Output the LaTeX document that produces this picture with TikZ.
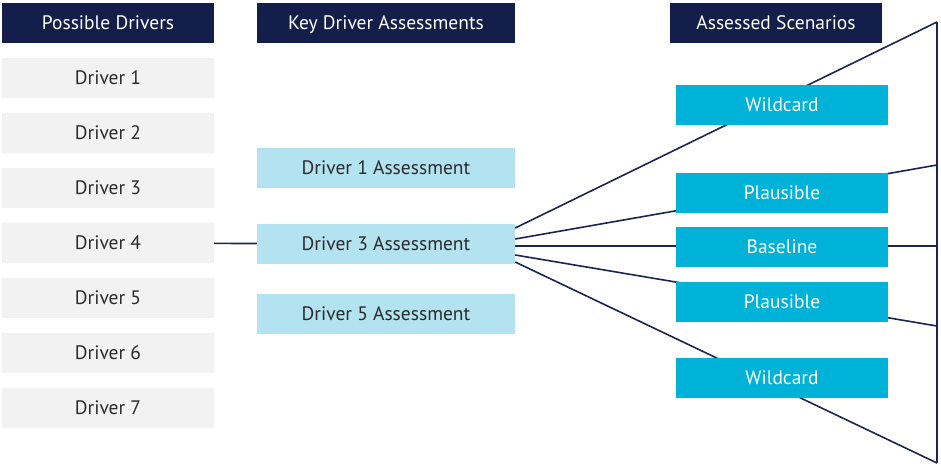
\documentclass[tikz,border=0pt]{standalone}
\usepackage{fontspec}
\setmainfont{PT Sans}
\usepackage{xcolor}
\usepackage{tikz}
\definecolor{navy}{HTML}{131E4A}
\definecolor{linenavy}{HTML}{1B2550}
\definecolor{drivergray}{HTML}{F2F2F2}
\definecolor{assessblue}{HTML}{B3E3F0}
\definecolor{scenblue}{HTML}{00B2D8}
\definecolor{textgray}{HTML}{2B2B2B}

\begin{document}
\begin{tikzpicture}[x=1pt, y=1pt, node distance=55pt,
  box/.style={rectangle, inner sep=0pt, minimum height=40pt, text height=13.6pt, text depth=0pt, font=\fontsize{19.5}{22}\selectfont},
  head/.style={box, fill=navy, text=white},
  driver/.style={box, fill=drivergray, text=textgray, minimum width=212pt},
  assess/.style={box, fill=assessblue, text=textgray, minimum width=258pt},
  scen/.style={box, fill=scenblue, text=white, minimum width=212pt},
  fan/.style={draw=linenavy, line width=1.6pt}]
\useasboundingbox (0,0) rectangle (941,-466);

% column headers
\node (drivershead) [head, minimum width=212pt] at (108,-23) {Possible Drivers};
\node (assesshead) [head, minimum width=258pt] at (386,-23) {Key Driver Assessments};
\node (scenhead) [head, minimum width=212pt] at (776,-23) {Assessed Scenarios};

% possible drivers
\node (d1) [driver] at (108,-78) {Driver 1};
\node (d2) [driver, below of=d1] {Driver 2};
\node (d3) [driver, below of=d2] {Driver 3};
\node (d4) [driver, below of=d3] {Driver 4};
\node (d5) [driver, below of=d4] {Driver 5};
\node (d6) [driver, below of=d5] {Driver 6};
\node (d7) [driver, below of=d6] {Driver 7};

% key driver assessments
\node (a1) [assess] at (386,-167.5) {Driver 1 Assessment};
\node (a3) [assess] at (386,-244) {Driver 3 Assessment};
\node (a5) [assess] at (386,-314) {Driver 5 Assessment};

% funnel
\coordinate (ftop) at (937,-22);
\coordinate (fup) at (937,-165);
\coordinate (fmid) at (937,-246);
\coordinate (flow) at (937,-326);
\coordinate (fbot) at (937,-463);

\draw [fan] (d4) -- (a3);
\draw [fan] ([yshift=16pt]a3.east) -- (ftop);
\draw [fan] ([yshift=5pt]a3.east) -- (fup);
\draw [fan] ([yshift=-2pt]a3.east) -- (fmid);
\draw [fan] ([yshift=-11pt]a3.east) -- (flow);
\draw [fan] ([yshift=-18pt]a3.east) -- (fbot);
\draw [fan] (ftop) -- (fbot);

% assessed scenarios
\node (w1) [scen] at (782,-105) {Wildcard};
\node (p1) [scen] at (782,-193) {Plausible};
\node (base) [scen] at (782,-247) {Baseline};
\node (p2) [scen] at (782,-302) {Plausible};
\node (w2) [scen] at (782,-378) {Wildcard};
\end{tikzpicture}
\end{document}
